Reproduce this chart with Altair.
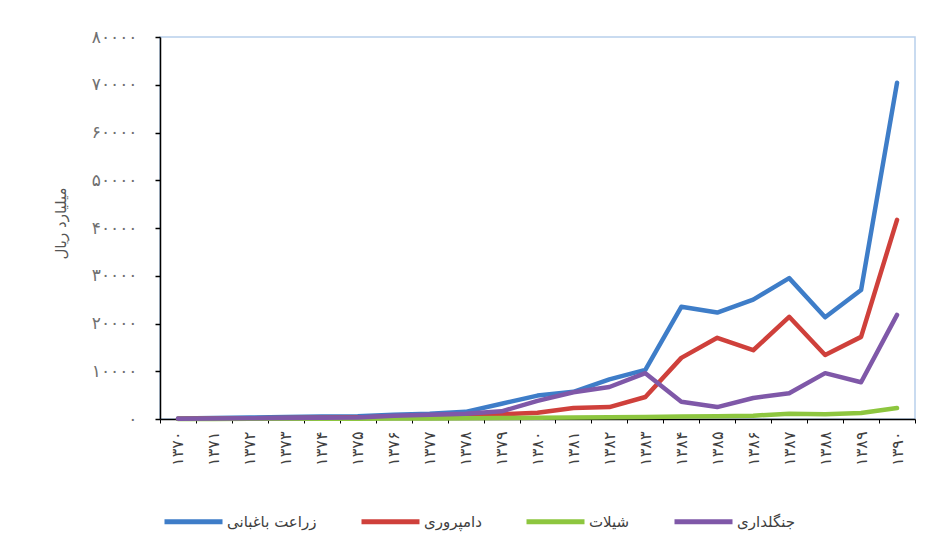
import altair as alt
import pandas as pd

years = ['۱۳۷۰', '۱۳۷۱', '۱۳۷۲', '۱۳۷۳', '۱۳۷۴', '۱۳۷۵', '۱۳۷۶', '۱۳۷۷', '۱۳۷۸', '۱۳۷۹',
         '۱۳۸۰', '۱۳۸۱', '۱۳۸۲', '۱۳۸۳', '۱۳۸۴', '۱۳۸۵', '۱۳۸۶', '۱۳۸۷', '۱۳۸۸', '۱۳۸۹', '۱۳۹۰']

series_names = ['زراعت باغبانی', 'دامپروری', 'شیلات', 'جنگلداری']
series_colors = ['#3E7DC8', '#CF403B', '#8DC63F', '#7F58A8']

farming = [100, 200, 300, 400, 500, 600, 900, 1100, 1500, 3200, 4900, 5700, 8300, 10300,
           23500, 22300, 25000, 29500, 21300, 27000, 70400]
livestock = [50, 100, 150, 200, 250, 300, 500, 700, 900, 1000, 1300, 2300, 2500, 4600,
             12800, 17000, 14400, 21400, 13400, 17200, 41700]
fishery = [10, 20, 30, 40, 50, 60, 80, 100, 150, 200, 250, 300, 350, 400,
           500, 600, 700, 1100, 1000, 1250, 2300]
forestry = [50, 100, 150, 200, 250, 300, 700, 900, 1100, 1600, 3800, 5600, 6700, 9600,
            3600, 2500, 4400, 5400, 9600, 7700, 21800]

y_ticks = [0, 10000, 20000, 30000, 40000, 50000, 60000, 70000, 80000]
y_tick_labels = ['۰', '۱۰۰۰۰', '۲۰۰۰۰', '۳۰۰۰۰', '۴۰۰۰۰', '۵۰۰۰۰', '۶۰۰۰۰', '۷۰۰۰۰', '۸۰۰۰۰']

y_title = 'میلیارد ریال'

rows = []
for name, vals in zip(series_names, [farming, livestock, fishery, forestry]):
    for yr, v in zip(years, vals):
        rows.append({'year': yr, 'series': name, 'value': v})
df = pd.DataFrame(rows)

label_expr = ""
for t, l in zip(y_ticks, y_tick_labels):
    label_expr += f"datum.value == {t} ? '{l}' : "
label_expr += "''"

font = "DejaVu Sans"

chart = alt.Chart(df).mark_line(strokeWidth=4.5, strokeCap="round", strokeJoin="round").encode(
    x=alt.X('year:N', sort=years, title=None,
            scale=alt.Scale(paddingInner=0, paddingOuter=0),
            axis=alt.Axis(labelAngle=-90, labelFontSize=16, labelColor='#404040', labelFont=font,
                          domainColor='black', domainWidth=1.5, tickColor='black', tickSize=4,
                          tickBand='extent', labelPadding=8)),
    y=alt.Y('value:Q', title=y_title,
            scale=alt.Scale(domain=[0, 80000], nice=False),
            axis=alt.Axis(values=y_ticks, labelExpr=label_expr, grid=False, labelFontSize=17,
                          labelColor='#707070', labelFont=font, domainColor='black', domainWidth=1.5,
                          tickColor='black', tickSize=5, tickWidth=1.5, labelPadding=18,
                          titleFont=font, titleFontSize=15, titleFontWeight='normal',
                          titleColor='#555555', titleAngle=-90, titleX=-100, titleY=186,
                          titleAlign='center', titleBaseline='middle')),
    color=alt.Color('series:N', sort=series_names,
                    scale=alt.Scale(domain=series_names, range=series_colors),
                    legend=alt.Legend(title=None, orient='none', direction='horizontal',
                                      legendX=2, legendY=453, symbolType='stroke',
                                      symbolSize=3364, symbolStrokeWidth=5, labelFont=font,
                                      labelFontSize=15, labelColor='#404040', labelOffset=2,
                                      columnPadding=34)),
    order=alt.Order('series:N')
).properties(
    width=755, height=382,
    autosize=alt.AutoSizeParams(type='none'),
    padding={'left': 152, 'top': 29, 'right': 8, 'bottom': 125}
).configure_view(
    stroke='#B8D0EC', strokeWidth=1.5
)

chart.save("out.html", embed_options={"renderer": "svg", "actions": False})
